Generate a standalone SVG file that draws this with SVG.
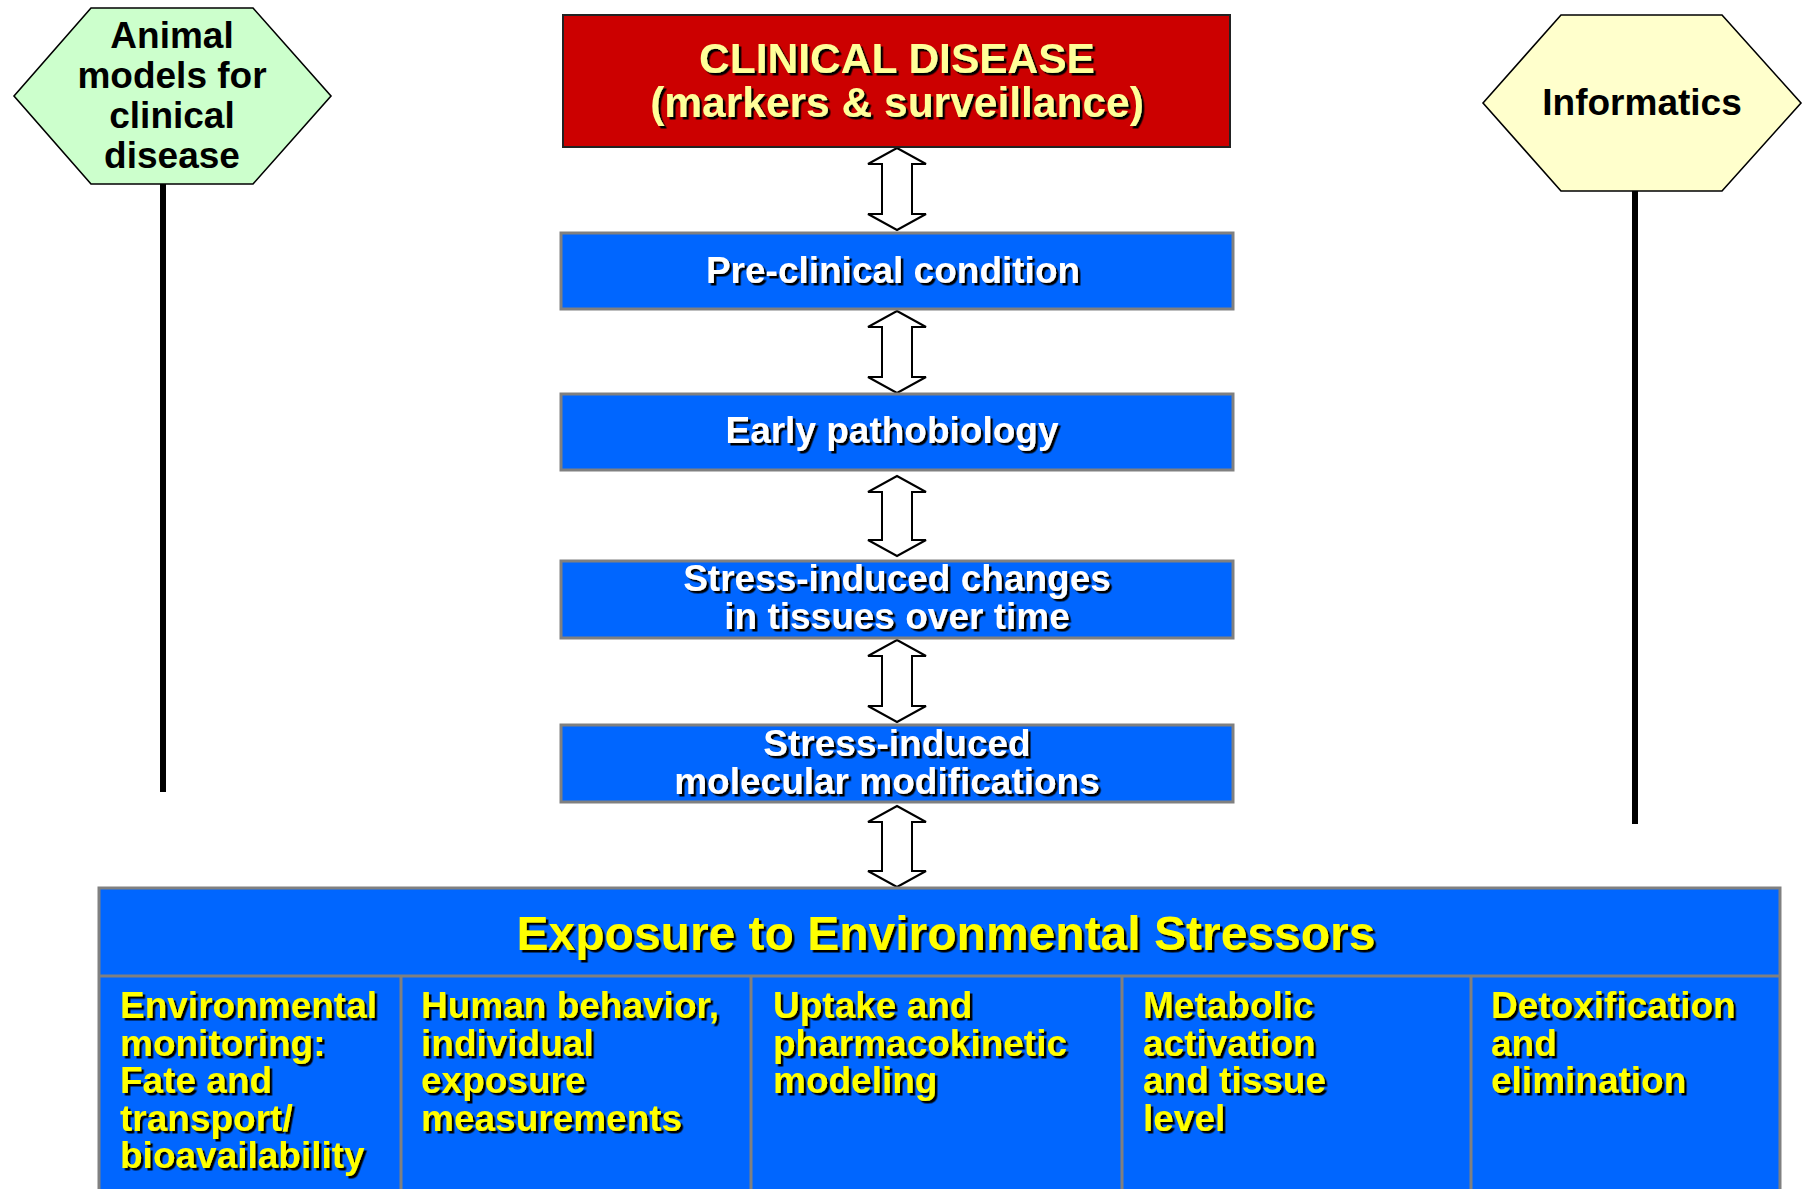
<svg xmlns="http://www.w3.org/2000/svg" width="1805" height="1189" viewBox="0 0 1805 1189">
<defs>
<filter id="sh" x="-5%" y="-20%" width="110%" height="140%">
<feDropShadow dx="2.5" dy="2.5" stdDeviation="0.3" flood-color="#000" flood-opacity="1"/>
</filter>
<style>
text{font-family:"Liberation Sans",Arial,sans-serif;font-weight:bold}
.hex{stroke:#000;stroke-width:1.6}
.blue{fill:#0066FF;stroke:#808080;stroke-width:3}
.wt{fill:#fff;font-size:37px;text-anchor:middle;filter:url(#sh)}
.yt{fill:#FFFF00;font-size:37px;filter:url(#sh)}
.bt{fill:#000;font-size:37px;text-anchor:middle}
.arr{fill:#fff;stroke:#000;stroke-width:2;stroke-linejoin:miter}
.vl{stroke:#000;stroke-width:6}
.div{stroke:#808080;stroke-width:3}
</style>
</defs>
<rect width="1805" height="1189" fill="#fff"/>

<g id="connectors">
<line class="vl" x1="163" y1="184" x2="163" y2="792"/>
<line class="vl" x1="1635" y1="191" x2="1635" y2="824"/>
<path class="arr" d="M897 148 L926 164 L912 164 L912 214 L926 214 L897 230 L868 214 L882 214 L882 164 L868 164 Z"/>
<path class="arr" d="M897 311 L926 327 L912 327 L912 377 L926 377 L897 393 L868 377 L882 377 L882 327 L868 327 Z"/>
<path class="arr" d="M897 476 L926 492 L912 492 L912 540 L926 540 L897 556 L868 540 L882 540 L882 492 L868 492 Z"/>
<path class="arr" d="M897 640 L926 656 L912 656 L912 706 L926 706 L897 722 L868 706 L882 706 L882 656 L868 656 Z"/>
<path class="arr" d="M897 806 L926 822 L912 822 L912 871 L926 871 L897 887 L868 871 L882 871 L882 822 L868 822 Z"/>
</g>

<g id="animal-models">
<polygon class="hex" fill="#CCFFCC" points="14,96 91,8 253,8 331,96 253,184 91,184"/>
<text class="bt" x="172" y="48">Animal</text>
<text class="bt" x="172" y="88">models for</text>
<text class="bt" x="172" y="128">clinical</text>
<text class="bt" x="172" y="168">disease</text>
</g>

<g id="informatics">
<polygon class="hex" fill="#FFFFCC" points="1483,103 1561,15 1722,15 1801,103 1722,191 1561,191"/>
<text class="bt" x="1642" y="115">Informatics</text>
</g>

<g id="clinical-disease">
<rect x="563" y="15" width="667" height="132" fill="#CC0000" stroke="#222" stroke-width="2"/>
<text x="897" y="73" fill="#FFFF99" font-size="42.5" text-anchor="middle" filter="url(#sh)">CLINICAL DISEASE</text>
<text x="897" y="117" fill="#FFFF99" font-size="42.5" text-anchor="middle" filter="url(#sh)">(markers &amp; surveillance)</text>
</g>

<g id="pre-clinical">
<rect class="blue" x="561" y="233" width="672" height="76"/>
<text class="wt" x="893" y="283">Pre-clinical condition</text>
</g>

<g id="early-pathobiology">
<rect class="blue" x="561" y="394" width="672" height="76"/>
<text class="wt" x="892" y="443">Early pathobiology</text>
</g>

<g id="stress-tissues">
<rect class="blue" x="561" y="561" width="672" height="77"/>
<text class="wt" x="897" y="591">Stress-induced changes</text>
<text class="wt" x="897" y="629">in tissues over time</text>
</g>

<g id="stress-molecular">
<rect class="blue" x="561" y="725" width="672" height="77"/>
<text class="wt" x="897" y="756">Stress-induced</text>
<text class="wt" x="887" y="794">molecular modifications</text>
</g>

<g id="exposure">
<rect class="blue" x="99" y="888" width="1681" height="320"/>
<line class="div" x1="99" y1="976" x2="1780" y2="976"/>
<line class="div" x1="401" y1="976" x2="401" y2="1189" stroke-width="2.5"/>
<line class="div" x1="751" y1="976" x2="751" y2="1189" stroke-width="2.5"/>
<line class="div" x1="1122" y1="976" x2="1122" y2="1189" stroke-width="2.5"/>
<line class="div" x1="1471" y1="976" x2="1471" y2="1189" stroke-width="2.5"/>
<text x="946" y="950" fill="#FFFF00" font-size="48" text-anchor="middle" filter="url(#sh)">Exposure to Environmental Stressors</text>
<g id="col-environmental">
<text class="yt" x="120" y="1018">Environmental</text>
<text class="yt" x="120" y="1056">monitoring:</text>
<text class="yt" x="120" y="1093">Fate and</text>
<text class="yt" x="120" y="1131">transport/</text>
<text class="yt" x="120" y="1168">bioavailability</text>
</g>
<g id="col-human">
<text class="yt" x="421" y="1018">Human behavior,</text>
<text class="yt" x="421" y="1056">individual</text>
<text class="yt" x="421" y="1093">exposure</text>
<text class="yt" x="421" y="1131">measurements</text>
</g>
<g id="col-uptake">
<text class="yt" x="773" y="1018">Uptake and</text>
<text class="yt" x="773" y="1056">pharmacokinetic</text>
<text class="yt" x="773" y="1093">modeling</text>
</g>
<g id="col-metabolic">
<text class="yt" x="1143" y="1018">Metabolic</text>
<text class="yt" x="1143" y="1056">activation</text>
<text class="yt" x="1143" y="1093">and tissue</text>
<text class="yt" x="1143" y="1131">level</text>
</g>
<g id="col-detox">
<text class="yt" x="1491" y="1018">Detoxification</text>
<text class="yt" x="1491" y="1056">and</text>
<text class="yt" x="1491" y="1093">elimination</text>
</g>
</g>
</svg>
